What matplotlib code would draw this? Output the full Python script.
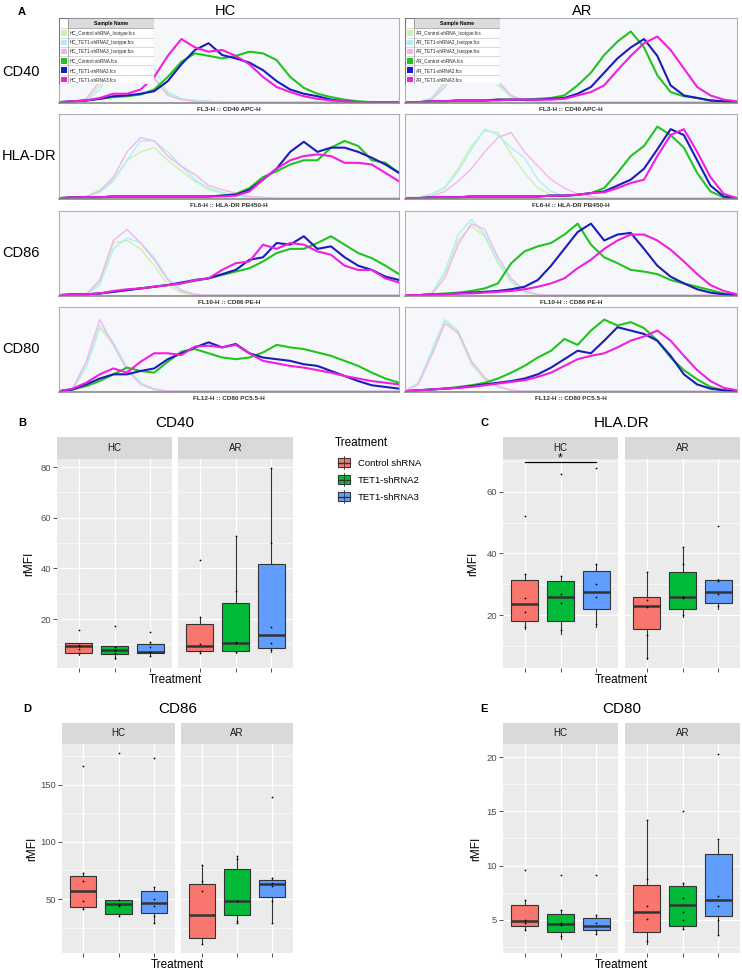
import numpy as np
import matplotlib
matplotlib.use('Agg')
import matplotlib.pyplot as plt
from matplotlib.patches import Rectangle
from matplotlib.lines import Line2D

plt.rcParams['font.family'] = ['Liberation Sans', 'DejaVu Sans']

# ------------------------------------------------------------------ data
# Panel A : flow-cytometry histograms (normalised count, 26 channel bins)
channel = np.linspace(0, 1, 26)

HC_CD40_ISO1 = [0,0,0.03,0.2,0.5,0.68,0.6,0.3,0.1,0.04,0.02,0.01,0,0,0,0,0,0,0,0,0,0,0,0,0,0]
HC_CD40_ISO2 = [0,0,0.02,0.15,0.45,0.65,0.66,0.4,0.12,0.04,0.02,0.01,0,0,0,0,0,0,0,0,0,0,0,0,0,0]
HC_CD40_ISO3 = [0,0,0.04,0.25,0.55,0.7,0.55,0.28,0.08,0.03,0.01,0,0,0,0,0,0,0,0,0,0,0,0,0,0,0]
HC_CD40_CTRL = [0,0.01,0.02,0.04,0.06,0.07,0.09,0.15,0.3,0.48,0.58,0.55,0.52,0.55,0.6,0.58,0.5,0.3,0.17,0.1,0.06,0.03,0.01,0,0,0]
HC_CD40_SH2 = [0,0.01,0.02,0.04,0.07,0.08,0.1,0.13,0.25,0.45,0.62,0.7,0.56,0.52,0.47,0.38,0.25,0.15,0.1,0.07,0.03,0.01,0,0,0,0]
HC_CD40_SH3 = [0,0.01,0.02,0.05,0.1,0.1,0.15,0.3,0.55,0.75,0.65,0.6,0.62,0.55,0.45,0.3,0.18,0.12,0.07,0.04,0.02,0.01,0,0,0,0]

HC_HLA_ISO1 = [0,0,0.02,0.1,0.22,0.45,0.55,0.6,0.45,0.32,0.2,0.1,0.06,0.02,0.01,0,0,0,0,0,0,0,0,0,0,0]
HC_HLA_ISO2 = [0,0,0.02,0.07,0.2,0.45,0.68,0.68,0.55,0.38,0.22,0.12,0.07,0.03,0.01,0,0,0,0,0,0,0,0,0,0,0]
HC_HLA_ISO3 = [0,0,0.02,0.08,0.25,0.55,0.72,0.68,0.5,0.38,0.28,0.15,0.1,0.06,0.02,0.01,0,0,0,0,0,0,0,0,0,0]
HC_HLA_CTRL = [0,0.01,0.01,0.01,0.02,0.02,0.02,0.02,0.02,0.02,0.02,0.02,0.03,0.05,0.12,0.25,0.32,0.4,0.45,0.45,0.6,0.68,0.62,0.45,0.42,0.3]
HC_HLA_SH2 = [0,0.01,0.01,0.01,0.02,0.02,0.02,0.02,0.02,0.02,0.02,0.02,0.03,0.04,0.1,0.22,0.35,0.55,0.67,0.55,0.6,0.6,0.55,0.48,0.4,0.3]
HC_HLA_SH3 = [0,0.01,0.01,0.01,0.02,0.02,0.02,0.02,0.02,0.02,0.02,0.02,0.02,0.03,0.08,0.22,0.35,0.45,0.5,0.52,0.5,0.42,0.42,0.4,0.3,0.2]

HC_CD86_ISO1 = [0,0,0.01,0.15,0.62,0.65,0.55,0.35,0.12,0.03,0,0,0,0,0,0,0,0,0,0,0,0,0,0,0,0]
HC_CD86_ISO2 = [0,0,0.01,0.12,0.55,0.68,0.62,0.45,0.2,0.06,0.01,0,0,0,0,0,0,0,0,0,0,0,0,0,0,0]
HC_CD86_ISO3 = [0,0,0.01,0.18,0.65,0.78,0.62,0.42,0.18,0.05,0.01,0,0,0,0,0,0,0,0,0,0,0,0,0,0,0]
HC_CD86_CTRL = [0,0.01,0.01,0.02,0.04,0.06,0.08,0.1,0.12,0.14,0.17,0.2,0.24,0.28,0.32,0.4,0.5,0.55,0.55,0.62,0.7,0.6,0.5,0.44,0.35,0.25]
HC_CD86_SH2 = [0,0.01,0.01,0.02,0.04,0.06,0.08,0.1,0.12,0.15,0.18,0.2,0.25,0.3,0.42,0.45,0.62,0.6,0.7,0.55,0.58,0.45,0.35,0.3,0.22,0.18]
HC_CD86_SH3 = [0,0.01,0.01,0.02,0.05,0.07,0.08,0.1,0.12,0.14,0.18,0.2,0.3,0.38,0.4,0.6,0.55,0.62,0.6,0.52,0.48,0.35,0.3,0.3,0.2,0.15]

HC_CD80_ISO1 = [0,0.02,0.28,0.75,0.55,0.28,0.1,0.03,0,0,0,0,0,0,0,0,0,0,0,0,0,0,0,0,0,0]
HC_CD80_ISO2 = [0,0.02,0.3,0.78,0.58,0.28,0.1,0.02,0,0,0,0,0,0,0,0,0,0,0,0,0,0,0,0,0,0]
HC_CD80_ISO3 = [0,0.03,0.35,0.85,0.55,0.25,0.08,0.02,0,0,0,0,0,0,0,0,0,0,0,0,0,0,0,0,0,0]
HC_CD80_CTRL = [0,0.02,0.06,0.12,0.2,0.28,0.24,0.22,0.35,0.47,0.5,0.45,0.4,0.38,0.4,0.46,0.55,0.52,0.5,0.46,0.42,0.36,0.3,0.22,0.15,0.1]
HC_CD80_SH2 = [0,0.02,0.08,0.15,0.2,0.2,0.24,0.27,0.38,0.45,0.52,0.58,0.52,0.56,0.45,0.4,0.38,0.36,0.32,0.3,0.24,0.18,0.12,0.07,0.05,0.03]
HC_CD80_SH3 = [0,0.03,0.1,0.2,0.27,0.22,0.35,0.45,0.45,0.43,0.53,0.54,0.52,0.55,0.45,0.36,0.33,0.3,0.28,0.25,0.22,0.18,0.15,0.12,0.1,0.08]

AR_CD40_ISO1 = [0,0,0.05,0.25,0.5,0.6,0.45,0.2,0.06,0.02,0,0,0,0,0,0,0,0,0,0,0,0,0,0,0,0]
AR_CD40_ISO2 = [0,0,0.04,0.22,0.48,0.58,0.47,0.22,0.07,0.02,0,0,0,0,0,0,0,0,0,0,0,0,0,0,0,0]
AR_CD40_ISO3 = [0,0,0.03,0.18,0.45,0.6,0.5,0.25,0.08,0.02,0,0,0,0,0,0,0,0,0,0,0,0,0,0,0,0]
AR_CD40_CTRL = [0,0,0.01,0.01,0.02,0.02,0.02,0.03,0.03,0.03,0.04,0.05,0.08,0.2,0.35,0.56,0.72,0.84,0.65,0.32,0.12,0.07,0.05,0.02,0.01,0]
AR_CD40_SH2 = [0,0,0.01,0.01,0.02,0.02,0.02,0.03,0.03,0.03,0.03,0.04,0.05,0.1,0.18,0.35,0.52,0.65,0.75,0.55,0.2,0.08,0.05,0.02,0.01,0]
AR_CD40_SH3 = [0,0,0.01,0.01,0.02,0.02,0.02,0.02,0.03,0.03,0.03,0.03,0.04,0.08,0.12,0.2,0.38,0.55,0.7,0.78,0.62,0.4,0.18,0.08,0.03,0.01]

AR_HLA_ISO1 = [0,0.01,0.05,0.13,0.35,0.62,0.8,0.78,0.52,0.3,0.12,0.04,0.01,0,0,0,0,0,0,0,0,0,0,0,0,0]
AR_HLA_ISO2 = [0,0.01,0.04,0.12,0.32,0.58,0.82,0.75,0.6,0.48,0.22,0.08,0.03,0.01,0,0,0,0,0,0,0,0,0,0,0,0]
AR_HLA_ISO3 = [0,0,0.02,0.08,0.2,0.35,0.55,0.72,0.78,0.55,0.38,0.22,0.12,0.05,0.02,0,0,0,0,0,0,0,0,0,0,0]
AR_HLA_CTRL = [0,0,0.01,0.01,0.01,0.02,0.02,0.02,0.02,0.02,0.02,0.03,0.03,0.04,0.06,0.12,0.3,0.5,0.62,0.85,0.75,0.6,0.3,0.08,0.01,0]
AR_HLA_SH2 = [0,0,0.01,0.01,0.01,0.02,0.02,0.02,0.02,0.02,0.02,0.03,0.03,0.04,0.06,0.08,0.15,0.22,0.35,0.58,0.82,0.75,0.45,0.15,0.02,0]
AR_HLA_SH3 = [0,0,0.01,0.01,0.01,0.02,0.02,0.02,0.02,0.02,0.02,0.03,0.03,0.04,0.06,0.07,0.12,0.18,0.22,0.5,0.75,0.82,0.55,0.25,0.05,0]

AR_CD86_ISO1 = [0,0,0.02,0.25,0.65,0.82,0.7,0.38,0.15,0.03,0,0,0,0,0,0,0,0,0,0,0,0,0,0,0,0]
AR_CD86_ISO2 = [0,0,0.02,0.28,0.72,0.9,0.72,0.4,0.18,0.04,0.01,0,0,0,0,0,0,0,0,0,0,0,0,0,0,0]
AR_CD86_ISO3 = [0,0,0.01,0.2,0.6,0.85,0.78,0.45,0.2,0.05,0.01,0,0,0,0,0,0,0,0,0,0,0,0,0,0,0]
AR_CD86_CTRL = [0,0,0.01,0.02,0.03,0.05,0.08,0.14,0.38,0.52,0.58,0.62,0.72,0.85,0.6,0.45,0.38,0.3,0.28,0.25,0.18,0.14,0.1,0.06,0.02,0]
AR_CD86_SH2 = [0,0,0.01,0.01,0.02,0.03,0.04,0.05,0.07,0.1,0.18,0.35,0.55,0.75,0.85,0.65,0.72,0.74,0.55,0.35,0.22,0.14,0.07,0.03,0.01,0]
AR_CD86_SH3 = [0,0,0.01,0.01,0.02,0.02,0.03,0.04,0.05,0.07,0.1,0.14,0.2,0.32,0.42,0.55,0.65,0.72,0.72,0.65,0.54,0.4,0.25,0.12,0.05,0.01]

AR_CD80_ISO1 = [0,0.09,0.45,0.84,0.68,0.32,0.14,0.05,0.01,0,0,0,0,0,0,0,0,0,0,0,0,0,0,0,0,0]
AR_CD80_ISO2 = [0,0.1,0.48,0.85,0.72,0.35,0.15,0.05,0.01,0,0,0,0,0,0,0,0,0,0,0,0,0,0,0,0,0]
AR_CD80_ISO3 = [0,0.08,0.42,0.8,0.7,0.36,0.16,0.06,0.01,0,0,0,0,0,0,0,0,0,0,0,0,0,0,0,0,0]
AR_CD80_CTRL = [0,0.01,0.02,0.03,0.05,0.07,0.1,0.15,0.22,0.3,0.4,0.48,0.62,0.55,0.72,0.85,0.78,0.82,0.75,0.6,0.4,0.25,0.14,0.05,0.01,0]
AR_CD80_SH2 = [0,0.01,0.02,0.03,0.04,0.06,0.08,0.1,0.12,0.15,0.2,0.28,0.38,0.48,0.45,0.6,0.76,0.72,0.68,0.6,0.42,0.2,0.08,0.03,0.01,0]
AR_CD80_SH3 = [0,0.01,0.02,0.03,0.04,0.05,0.07,0.09,0.11,0.13,0.17,0.22,0.3,0.38,0.42,0.45,0.52,0.6,0.65,0.72,0.6,0.42,0.25,0.12,0.04,0.01]

groups_A = ['HC', 'AR']
markers_A = ['CD40', 'HLA-DR', 'CD86', 'CD80']
channel_labels = ['FL3-H :: CD40 APC-H', 'FL6-H :: HLA-DR PB450-H',
                  'FL10-H :: CD86 PE-H', 'FL12-H :: CD80 PC5.5-H']
sample_suffix = ['Control-shRNA_Isotype.fcs', 'TET1-shRNA2_Isotype.fcs', 'TET1-shRNA3_Isotype.fcs',
                 'Control-shRNA.fcs', 'TET1-shRNA2.fcs', 'TET1-shRNA3.fcs']

# Panels B-E : rMFI box plots (whisker low, Q1, median, Q3, whisker high) per treatment
treatments = ['Control shRNA', 'TET1-shRNA2', 'TET1-shRNA3']

CD40_HC_LOW = [5.8, 4.2, 5.5];   CD40_HC_Q1 = [6.7, 6.1, 6.7];   CD40_HC_MED = [9.3, 7.8, 7.0]
CD40_HC_Q3 = [10.4, 9.3, 10.0];  CD40_HC_HIGH = [10.6, 9.5, 11.0]
CD40_HC_PTS = [[15.8, 9.8, 9.3, 8.3, 6.5], [17.2, 8.8, 7.8, 6.5, 4.5], [15.1, 11.0, 9.0, 7.0, 5.5]]
CD40_AR_LOW = [6.7, 6.7, 7.1];   CD40_AR_Q1 = [7.3, 7.5, 8.4];   CD40_AR_MED = [9.2, 10.4, 13.7]
CD40_AR_Q3 = [17.9, 26.5, 41.7]; CD40_AR_HIGH = [20.7, 52.9, 79.5]
CD40_AR_PTS = [[43.3, 20.7, 10.3, 7.5, 6.8], [52.9, 31.0, 10.9, 10.4, 7.0], [79.5, 49.9, 16.7, 10.4, 8.0]]

HLA_HC_LOW = [15.5, 14.0, 16.0]; HLA_HC_Q1 = [18.0, 18.0, 22.0]; HLA_HC_MED = [23.5, 26.0, 27.5]
HLA_HC_Q3 = [31.4, 31.2, 34.3];  HLA_HC_HIGH = [33.2, 32.8, 36.7]
HLA_HC_PTS = [[52.2, 33.2, 25.5, 21.0, 16.0], [65.9, 32.8, 27.0, 24.0, 15.0], [67.8, 36.7, 30.0, 26.0, 17.0]]
HLA_AR_LOW = [5.6, 19.4, 22.0];  HLA_AR_Q1 = [15.6, 22.0, 24.0]; HLA_AR_MED = [23.0, 26.0, 27.5]
HLA_AR_Q3 = [26.0, 34.0, 31.3];  HLA_AR_HIGH = [33.9, 42.0, 31.6]
HLA_AR_PTS = [[33.9, 25.0, 22.5, 13.5, 6.0], [42.0, 36.5, 26.0, 25.5, 20.0], [49.0, 31.5, 31.0, 27.0, 23.0]]

CD86_HC_LOW = [41.3, 35.4, 29.0]; CD86_HC_Q1 = [43.3, 37.1, 37.4]; CD86_HC_MED = [57.3, 45.6, 46.8]
CD86_HC_Q3 = [70.6, 49.1, 57.3];  CD86_HC_HIGH = [72.7, 49.5, 60.2]
CD86_HC_PTS = [[166.5, 72.7, 65.7, 48.5, 41.3], [177.9, 49.0, 45.0, 43.9, 35.4], [173.8, 60.2, 50.0, 43.9, 35.0, 29.0]]
CD86_AR_LOW = [10.7, 29.3, 29.0]; CD86_AR_Q1 = [15.6, 36.0, 51.4]; CD86_AR_MED = [36.3, 47.9, 63.1]
CD86_AR_Q3 = [63.6, 76.2, 66.9];  CD86_AR_HIGH = [79.4, 87.3, 68.3]
CD86_AR_PTS = [[79.4, 65.7, 56.7, 10.7], [87.3, 85.0, 48.0, 31.0, 29.3], [139.7, 68.3, 64.0, 61.0, 48.0, 29.0]]

CD80_HC_LOW = [4.08, 3.23, 3.7];  CD80_HC_Q1 = [4.42, 3.9, 4.02];  CD80_HC_MED = [4.88, 4.6, 4.45]
CD80_HC_Q3 = [6.4, 5.55, 5.21];   CD80_HC_HIGH = [6.84, 5.86, 5.43]
CD80_HC_PTS = [[9.57, 6.84, 5.0, 4.7, 4.1], [9.16, 5.86, 4.7, 4.5, 3.5], [9.15, 5.4, 4.7, 4.1, 3.7]]
CD80_AR_LOW = [2.77, 4.14, 3.62]; CD80_AR_Q1 = [3.84, 4.4, 5.34];  CD80_AR_MED = [5.7, 6.4, 6.78]
CD80_AR_Q3 = [8.19, 8.1, 11.07];  CD80_AR_HIGH = [14.2, 8.43, 12.4]
CD80_AR_PTS = [[14.2, 8.8, 6.3, 5.1, 3.0], [15.05, 8.43, 7.05, 5.73, 5.0, 4.14], [20.3, 12.4, 7.23, 6.3, 5.0, 3.62]]

# ------------------------------------------------------------------ figure
W, H = 742, 971
fig = plt.figure(figsize=(W / 100, H / 100), dpi=100)


def add_ax(x0, y0, x1, y1):
    return fig.add_axes([x0 / W, 1 - y1 / H, (x1 - x0) / W, (y1 - y0) / H])


def ftext(x, y, s, **kw):
    fig.text(x / W, 1 - y / H, s, **kw)


# ---------------- Panel A
hist_sets = {
    ('HC', 'CD40'): [HC_CD40_ISO1, HC_CD40_ISO2, HC_CD40_ISO3, HC_CD40_CTRL, HC_CD40_SH2, HC_CD40_SH3],
    ('HC', 'HLA-DR'): [HC_HLA_ISO1, HC_HLA_ISO2, HC_HLA_ISO3, HC_HLA_CTRL, HC_HLA_SH2, HC_HLA_SH3],
    ('HC', 'CD86'): [HC_CD86_ISO1, HC_CD86_ISO2, HC_CD86_ISO3, HC_CD86_CTRL, HC_CD86_SH2, HC_CD86_SH3],
    ('HC', 'CD80'): [HC_CD80_ISO1, HC_CD80_ISO2, HC_CD80_ISO3, HC_CD80_CTRL, HC_CD80_SH2, HC_CD80_SH3],
    ('AR', 'CD40'): [AR_CD40_ISO1, AR_CD40_ISO2, AR_CD40_ISO3, AR_CD40_CTRL, AR_CD40_SH2, AR_CD40_SH3],
    ('AR', 'HLA-DR'): [AR_HLA_ISO1, AR_HLA_ISO2, AR_HLA_ISO3, AR_HLA_CTRL, AR_HLA_SH2, AR_HLA_SH3],
    ('AR', 'CD86'): [AR_CD86_ISO1, AR_CD86_ISO2, AR_CD86_ISO3, AR_CD86_CTRL, AR_CD86_SH2, AR_CD86_SH3],
    ('AR', 'CD80'): [AR_CD80_ISO1, AR_CD80_ISO2, AR_CD80_ISO3, AR_CD80_CTRL, AR_CD80_SH2, AR_CD80_SH3],
}
hist_colors = ['#c9f2ac', '#aef0f3', '#f4b4ee', '#1fc41f', '#1c1cb8', '#f01fe0']
hist_lw = [1.0, 1.0, 1.0, 1.5, 1.5, 1.5]
col_x = {'HC': (59, 399), 'AR': (405, 737)}
row_top = [18, 114, 211, 307]
row_h = 85

ftext(22, 12, 'A', fontsize=8, fontweight='bold', ha='center', va='center')
ftext(225, 11, 'HC', fontsize=10.5, ha='center', va='center')
ftext(582, 11, 'AR', fontsize=10.5, ha='center', va='center')

for r, marker in enumerate(markers_A):
    top = row_top[r]
    ftext(2, top + 42 + (r == 0) * 12, marker, fontsize=10.5, ha='left', va='center')
    for g in groups_A:
        x0, x1 = col_x[g]
        ax = add_ax(x0, top, x1, top + row_h)
        ax.set_facecolor('#f6f7fb')
        for arr, c, lw in zip(hist_sets[(g, marker)], hist_colors, hist_lw):
            ax.plot(channel, arr, color=c, lw=lw, solid_joinstyle='round')
        ax.set_xlim(0, 1)
        ax.set_ylim(-0.01, 1)
        ax.set_xticks([])
        ax.set_yticks([])
        for s in ['top', 'left', 'right']:
            ax.spines[s].set_color('#b0b0b0')
            ax.spines[s].set_linewidth(0.8)
        ax.spines['bottom'].set_color('#808080')
        ax.spines['bottom'].set_linewidth(1.1)
        ftext((x0 + x1) / 2, top + row_h + 6, channel_labels[r], fontsize=4.6,
              fontweight='bold', color='#333333', ha='center', va='center')
        if r == 0:
            # sample-name legend table
            tab = add_ax(x0, top, x0 + 95, top + 66)
            tab.set_xlim(0, 95)
            tab.set_ylim(66, 0)
            tab.axis('off')
            tab.add_patch(Rectangle((0, 0), 95, 66, facecolor='white', edgecolor='#777777', lw=0.8))
            tab.add_patch(Rectangle((9, 0), 86, 10.5, facecolor='#dcdcdc', edgecolor='#888888', lw=0.5))
            tab.text(52, 5.4, 'Sample Name', fontsize=3.7, fontweight='bold', ha='center', va='center')
            rh = (66 - 10.5) / 6
            for i, suf in enumerate(sample_suffix):
                y0 = 10.5 + i * rh
                tab.add_line(Line2D([0, 95], [y0, y0], color='#bbbbbb', lw=0.4))
                tab.add_patch(Rectangle((2, y0 + 1.8), 6, rh - 3.6, facecolor=hist_colors[i],
                                        edgecolor='none'))
                tab.text(11, y0 + rh / 2 + 0.3, f'{g}_{suf}', fontsize=3.3, ha='left', va='center',
                         color='#222222')
            tab.add_line(Line2D([9, 9], [0, 66], color='#999999', lw=0.5))

# ---------------- Panels B-E
box_colors = ['#F8766D', '#00BA38', '#619CFF']
edge = '#333333'


def facet(x0, x1, ytop, ybot, strip_top, label, low, q1, med, q3, high, pts, ylim,
          major, minor, left):
    st = add_ax(x0, strip_top, x1, ytop)
    st.set_facecolor('#D9D9D9')
    st.set_xticks([]); st.set_yticks([])
    for s in st.spines.values():
        s.set_visible(False)
    st.text(0.5, 0.5, label, transform=st.transAxes, ha='center', va='center',
            fontsize=7, color='#1A1A1A')
    ax = add_ax(x0, ytop, x1, ybot)
    ax.set_facecolor('#EBEBEB')
    stats = [dict(whislo=low[i], q1=q1[i], med=med[i], q3=q3[i], whishi=high[i], fliers=[])
             for i in range(3)]
    bp = ax.bxp(stats, positions=[1, 2, 3], widths=0.75, patch_artist=True,
                showfliers=False, showcaps=False,
                boxprops=dict(edgecolor=edge, linewidth=0.8),
                medianprops=dict(color=edge, linewidth=1.8),
                whiskerprops=dict(color=edge, linewidth=0.8))
    for patch, c in zip(bp['boxes'], box_colors):
        patch.set_facecolor(c)
    for i, p in enumerate(pts):
        ax.scatter(np.full(len(p), i + 1), p, s=1.6, c='black', linewidths=0, zorder=5)
    ax.set_xlim(0.4, 3.6)
    ax.set_ylim(*ylim)
    ax.set_xticks([1, 2, 3])
    ax.set_xticklabels([])
    ax.set_yticks(major)
    ax.set_yticks(minor, minor=True)
    ax.set_axisbelow(True)
    ax.grid(True, which='major', color='white', lw=0.9)
    ax.grid(True, which='minor', axis='y', color='white', lw=0.45)
    for s in ax.spines.values():
        s.set_visible(False)
    ax.tick_params(axis='both', which='major', length=2.7, width=0.6, color=edge,
                   labelsize=6.8, labelcolor='#4D4D4D', pad=1.5)
    ax.tick_params(which='minor', length=0)
    if not left:
        ax.tick_params(axis='y', which='both', length=0, labelleft=False)
    return ax


def panel(letter, title, xs, ytop, ybot, strip_top, hc, ar, ylim, major, minor, ylab_x,
          letter_x):
    (hx0, hx1), (ax0, ax1) = xs
    a_hc = facet(hx0, hx1, ytop, ybot, strip_top, 'HC', *hc, ylim, major, minor, True)
    a_ar = facet(ax0, ax1, ytop, ybot, strip_top, 'AR', *ar, ylim, major, minor, False)
    cx = (hx0 + ax1) / 2
    ftext(letter_x, strip_top - 14, letter, fontsize=8, fontweight='bold', ha='center', va='center')
    ftext(cx, strip_top - 14, title, fontsize=11, ha='center', va='center')
    ftext(ylab_x, (ytop + ybot) / 2, 'rMFI', fontsize=8.5, rotation=90, ha='center', va='center')
    ftext(cx, ybot + 12, 'Treatment', fontsize=8.5, ha='center', va='center')
    return a_hc, a_ar


panel('B', 'CD40', ((57, 172), (178, 293)), 459, 668, 437,
      (CD40_HC_LOW, CD40_HC_Q1, CD40_HC_MED, CD40_HC_Q3, CD40_HC_HIGH, CD40_HC_PTS),
      (CD40_AR_LOW, CD40_AR_Q1, CD40_AR_MED, CD40_AR_Q3, CD40_AR_HIGH, CD40_AR_PTS),
      (0.7, 83.2), [20, 40, 60, 80], [10, 30, 50, 70], 29, 22)

c_hc, c_ar = panel('C', 'HLA.DR', ((503, 618), (625, 740)), 459, 668, 437,
                   (HLA_HC_LOW, HLA_HC_Q1, HLA_HC_MED, HLA_HC_Q3, HLA_HC_HIGH, HLA_HC_PTS),
                   (HLA_AR_LOW, HLA_AR_Q1, HLA_AR_MED, HLA_AR_Q3, HLA_AR_HIGH, HLA_AR_PTS),
                   (2.8, 70.7), [20, 40, 60], [10, 30, 50, 70], 473, 484)
# significance bar
c_hc.plot([1, 3], [69.7, 69.7], color='black', lw=0.9, clip_on=False, zorder=6)
c_hc.text(2, 71.0, '*', ha='center', va='center', fontsize=8.5, clip_on=False, zorder=6)

panel('D', 'CD86', ((62, 175), (181, 293)), 744, 953, 723,
      (CD86_HC_LOW, CD86_HC_Q1, CD86_HC_MED, CD86_HC_Q3, CD86_HC_HIGH, CD86_HC_PTS),
      (CD86_AR_LOW, CD86_AR_Q1, CD86_AR_MED, CD86_AR_Q3, CD86_AR_HIGH, CD86_AR_PTS),
      (2.8, 185.7), [50, 100, 150], [25, 75, 125, 175], 32, 27)

panel('E', 'CD80', ((503, 618), (625, 740)), 744, 953, 723,
      (CD80_HC_LOW, CD80_HC_Q1, CD80_HC_MED, CD80_HC_Q3, CD80_HC_HIGH, CD80_HC_PTS),
      (CD80_AR_LOW, CD80_AR_Q1, CD80_AR_MED, CD80_AR_Q3, CD80_AR_HIGH, CD80_AR_PTS),
      (1.94, 21.2), [5, 10, 15, 20], [2.5, 7.5, 12.5, 17.5], 476, 484)

# ---------------- legend (Treatment)
ftext(335, 443, 'Treatment', fontsize=8.5, ha='left', va='center')
for i, (lab, c) in enumerate(zip(treatments, box_colors)):
    yc = 463 + i * 17
    fig.add_artist(Rectangle(((337) / W, 1 - (yc + 6.5) / H), 13 / W, 13 / H,
                             transform=fig.transFigure, facecolor='#F2F2F2', edgecolor='none'))
    fig.add_artist(Line2D([343.5 / W, 343.5 / W], [1 - (yc + 6.5) / H, 1 - (yc - 6.5) / H],
                          transform=fig.transFigure, color=edge, lw=0.6))
    fig.add_artist(Rectangle((337.5 / W, 1 - (yc + 4.5) / H), 12 / W, 9 / H,
                             transform=fig.transFigure, facecolor=c, edgecolor=edge, lw=0.7))
    fig.add_artist(Line2D([337.5 / W, 349.5 / W], [1 - yc / H, 1 - yc / H],
                          transform=fig.transFigure, color=edge, lw=1.0))
    ftext(358, yc, lab, fontsize=6.8, ha='left', va='center')

fig.savefig('out.png', dpi=100)
